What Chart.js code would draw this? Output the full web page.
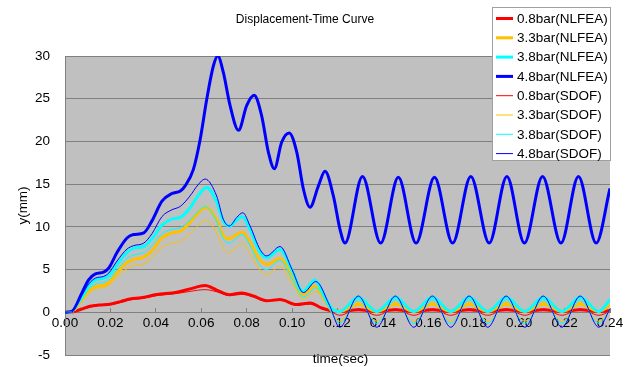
<!DOCTYPE html>
<html>
<head>
<meta charset="utf-8">
<script src="https://cdn.jsdelivr.net/npm/chart.js@4.4.0/dist/chart.umd.min.js"></script>
<style>
  html, body { margin: 0; padding: 0; background: #ffffff; }
  #c { display: block; }
</style>
</head>
<body>
<canvas id="c" width="629" height="367"></canvas>
<script>
// Displacement histories, [time (s), displacement (mm)]
const nlfea08 = [[0,0],[0.003,0.03],[0.007,0.35],[0.011,0.7],[0.015,0.85],[0.0198,0.95],[0.0245,1.25],[0.0286,1.55],[0.0335,1.7],[0.0404,2.07],[0.0492,2.35],[0.0551,2.74],[0.0617,3.13],[0.0668,2.6],[0.0724,2.05],[0.0778,2.27],[0.083,1.9],[0.0888,1.35],[0.0947,1.5],[0.102,0.9],[0.108,1.1],[0.113,0.5],[0.117,0.2],[0.121,0.1],[0.1292,0.3],[0.1373,0.1],[0.1455,0.3],[0.1536,0.1],[0.1618,0.3],[0.1699,0.1],[0.178,0.3],[0.1862,0.1],[0.1943,0.3],[0.2025,0.1],[0.2106,0.3],[0.2188,0.1],[0.2269,0.3],[0.2351,0.1],[0.24,0.2]];
const nlfea33 = [[0,0],[0.003,0.05],[0.0075,1.5],[0.0104,2.5],[0.0134,3.0],[0.017,3.15],[0.0193,3.45],[0.0229,4.6],[0.0273,5.8],[0.0302,6.2],[0.0347,6.45],[0.0383,7.2],[0.0427,8.7],[0.0471,9.3],[0.0508,9.5],[0.055,10.5],[0.0585,11.6],[0.062,12.3],[0.0668,10.8],[0.0697,9.0],[0.0724,8.6],[0.0756,9.1],[0.078,9.4],[0.0815,8.2],[0.0859,6.1],[0.0888,5.6],[0.0947,6.3],[0.1,4.2],[0.1047,2.07],[0.11,3.05],[0.114,1.6],[0.118,0.25],[0.121,0.1],[0.1292,0.95],[0.1373,0.1],[0.1455,0.95],[0.1536,0.1],[0.1618,0.95],[0.1699,0.1],[0.178,0.95],[0.1862,0.1],[0.1943,0.95],[0.2025,0.1],[0.2106,0.95],[0.2188,0.1],[0.2269,0.95],[0.2351,0.1],[0.24,0.8]];
const nlfea38 = [[0,0],[0.003,0.05],[0.0075,1.8],[0.0104,3.1],[0.0134,3.8],[0.017,4.0],[0.0193,4.3],[0.0229,5.6],[0.0273,7.0],[0.0302,7.5],[0.0347,7.7],[0.0383,8.6],[0.0427,10.2],[0.0471,10.9],[0.0508,11.1],[0.055,12.2],[0.0585,13.6],[0.0624,14.6],[0.0668,12.9],[0.0697,10.7],[0.0724,10.1],[0.0756,10.8],[0.078,11.2],[0.0815,9.7],[0.0859,7.0],[0.0888,6.4],[0.0947,7.35],[0.1,4.9],[0.1047,2.45],[0.11,3.75],[0.114,2.0],[0.118,0.3],[0.121,0.1],[0.1292,1.75],[0.1373,0.1],[0.1455,1.75],[0.1536,0.1],[0.1618,1.75],[0.1699,0.1],[0.178,1.75],[0.1862,0.1],[0.1943,1.75],[0.2025,0.1],[0.2106,1.75],[0.2188,0.1],[0.2269,1.75],[0.2351,0.1],[0.24,1.5]];
const nlfea48 = [[0,0],[0.003,0.1],[0.0075,2.3],[0.0104,3.8],[0.0134,4.5],[0.017,4.7],[0.0193,5.2],[0.0229,7.0],[0.0273,8.7],[0.0302,9.1],[0.0347,9.3],[0.0383,10.7],[0.0427,13.0],[0.0471,13.9],[0.0508,14.2],[0.0529,14.8],[0.0565,16.7],[0.0595,20.2],[0.0624,24.9],[0.0653,28.8],[0.0673,30.0],[0.0697,28.1],[0.0727,24.2],[0.0764,21.3],[0.08,24.2],[0.0833,25.4],[0.0866,23.0],[0.0896,18.7],[0.0922,16.8],[0.0954,19.9],[0.0987,21.0],[0.1021,18.7],[0.105,14.4],[0.1079,12.3],[0.1116,14.8],[0.1145,16.5],[0.1182,13.6],[0.1211,9.7],[0.1233,8.1],[0.131,15.9],[0.139,8.1],[0.1468,15.8],[0.1546,8.1],[0.1627,15.8],[0.1707,8.1],[0.1787,15.9],[0.1868,8.1],[0.1946,15.9],[0.2023,8.1],[0.2103,15.9],[0.2184,8.1],[0.2261,15.9],[0.2339,8.1],[0.24,14.5]];
const sdof08 = [[0,0],[0.003,0.03],[0.007,0.3],[0.011,0.6],[0.015,0.8],[0.0198,0.9],[0.0245,1.15],[0.0286,1.45],[0.0335,1.6],[0.0404,1.95],[0.0492,2.2],[0.0551,2.45],[0.0617,2.65],[0.0668,2.4],[0.0724,1.95],[0.0778,2.1],[0.083,1.8],[0.0888,1.3],[0.0947,1.4],[0.102,0.85],[0.108,0.95],[0.113,0.45],[0.117,0.1],[0.121,-0.35],[0.1292,0.4],[0.1373,-0.35],[0.1455,0.4],[0.1536,-0.35],[0.1618,0.4],[0.1699,-0.35],[0.178,0.4],[0.1862,-0.35],[0.1943,0.4],[0.2025,-0.35],[0.2106,0.4],[0.2188,-0.35],[0.2269,0.4],[0.2351,-0.35],[0.24,0.1]];
const sdof33 = [[0,0],[0.003,0.05],[0.0075,1.3],[0.0104,2.2],[0.0134,2.75],[0.017,2.9],[0.0193,3.15],[0.0229,4.1],[0.0273,5.1],[0.0302,5.45],[0.0347,5.65],[0.0383,6.4],[0.0427,7.6],[0.0471,8.1],[0.0508,8.3],[0.055,9.2],[0.0585,10.1],[0.0617,10.8],[0.0668,9.3],[0.0697,7.5],[0.0724,7.0],[0.0756,7.6],[0.078,8.05],[0.0815,6.9],[0.0859,4.9],[0.0888,4.4],[0.0947,5.4],[0.1,3.4],[0.105,1.55],[0.1105,2.45],[0.1165,0.3],[0.121,-1.05],[0.1292,1.2],[0.1373,-1.05],[0.1455,1.2],[0.1536,-1.05],[0.1618,1.2],[0.1699,-1.05],[0.178,1.2],[0.1862,-1.05],[0.1943,1.2],[0.2025,-1.05],[0.2106,1.2],[0.2188,-1.05],[0.2269,1.2],[0.2351,-1.05],[0.24,0.25]];
const sdof38 = [[0,0],[0.003,0.05],[0.0075,1.6],[0.0104,2.7],[0.0134,3.3],[0.017,3.5],[0.0193,3.8],[0.0229,5.0],[0.0273,6.3],[0.0302,6.7],[0.0347,7.0],[0.0383,7.8],[0.0427,9.2],[0.0471,9.7],[0.0508,9.9],[0.055,10.8],[0.0585,11.8],[0.0617,12.4],[0.0668,10.6],[0.0697,8.6],[0.0724,8.1],[0.0756,8.7],[0.078,9.1],[0.0815,7.8],[0.0859,5.5],[0.0888,5.0],[0.0947,6.1],[0.1,3.9],[0.105,1.8],[0.1105,2.85],[0.1165,0.4],[0.121,-1.3],[0.1292,1.45],[0.1373,-1.3],[0.1455,1.45],[0.1536,-1.3],[0.1618,1.45],[0.1699,-1.3],[0.178,1.45],[0.1862,-1.3],[0.1943,1.45],[0.2025,-1.3],[0.2106,1.45],[0.2188,-1.3],[0.2269,1.45],[0.2351,-1.3],[0.24,0.3]];
const sdof48 = [[0,0],[0.003,0.05],[0.0075,2.0],[0.0104,3.3],[0.0134,4.0],[0.017,4.2],[0.0193,4.6],[0.0229,6.0],[0.0273,7.4],[0.0302,7.8],[0.0347,8.1],[0.0383,9.2],[0.0427,11.2],[0.0471,12.0],[0.0508,12.4],[0.055,13.6],[0.0585,14.9],[0.0617,15.6],[0.0668,13.6],[0.0697,10.9],[0.0724,10.1],[0.0756,11.1],[0.0783,11.65],[0.0815,10.1],[0.0859,7.35],[0.0888,6.6],[0.0947,7.7],[0.1,5.0],[0.105,2.3],[0.1105,3.6],[0.1165,0.8],[0.121,-1.75],[0.1292,1.9],[0.1373,-1.75],[0.1455,1.9],[0.1536,-1.75],[0.1618,1.9],[0.1699,-1.75],[0.178,1.9],[0.1862,-1.75],[0.1943,1.9],[0.2025,-1.75],[0.2106,1.9],[0.2188,-1.75],[0.2269,1.9],[0.2351,-1.75],[0.24,0.4]];

const seriesLabels = ['0.8bar(NLFEA)','3.3bar(NLFEA)','3.8bar(NLFEA)','4.8bar(NLFEA)','0.8bar(SDOF)','3.3bar(SDOF)','3.8bar(SDOF)','4.8bar(SDOF)'];
const seriesData = [nlfea08, nlfea33, nlfea38, nlfea48, sdof08, sdof33, sdof38, sdof48];
const seriesColors = ['#FF0000','#FFC000','#00FFFF','#0000FF','#FF0000','#FFC000','#00FFFF','#0000FF'];
const seriesWidths = [3, 3, 3, 3, 1, 1, 1, 1];

const timeTicks = [0, 0.02, 0.04, 0.06, 0.08, 0.10, 0.12, 0.14, 0.16, 0.18, 0.20, 0.22, 0.24];
const dispTicks = [-5, 0, 5, 10, 15, 20, 25, 30];

const FAMILY = '"Liberation Sans", Arial, Helvetica, sans-serif';

const datasets = seriesData.map((pts, i) => ({
  label: seriesLabels[i],
  data: pts.map(p => ({ x: p[0], y: p[1] })),
  borderColor: seriesColors[i],
  backgroundColor: seriesColors[i],
  borderWidth: seriesWidths[i],
  pointRadius: 0,
  fill: false,
  cubicInterpolationMode: 'monotone',
  order: seriesData.length - 1 - i
}));

// grey plot area behind the grid
const plotBackground = {
  id: 'plotBackground',
  beforeDraw(chart) {
    const { ctx, chartArea: a } = chart;
    ctx.save();
    ctx.fillStyle = '#C0C0C0';
    ctx.fillRect(a.left, a.top, a.right - a.left, a.bottom - a.top);
    ctx.restore();
  }
};

// title, axis titles and the boxed legend
const annotations = {
  id: 'annotations',
  afterDraw(chart) {
    const { ctx, chartArea: a } = chart;
    ctx.save();
    ctx.fillStyle = '#000';
    ctx.textAlign = 'center';
    ctx.textBaseline = 'middle';
    ctx.font = '12px ' + FAMILY;
    ctx.fillText('Displacement-Time Curve', 305, 20);

    ctx.font = '13.5px ' + FAMILY;
    ctx.fillText('time(sec)', (a.left + a.right) / 2 + 3, 359);

    ctx.save();
    ctx.translate(23, (a.top + a.bottom) / 2);
    ctx.rotate(-Math.PI / 2);
    ctx.fillText('y(mm)', 0, 0);
    ctx.restore();

    // legend
    const bx = 492.5, by = 7.5, bw = 118, bh = 153;
    ctx.fillStyle = '#FFFFFF';
    ctx.fillRect(bx, by, bw, bh);
    ctx.strokeStyle = '#A0A0A0';
    ctx.lineWidth = 1;
    ctx.strokeRect(bx, by, bw, bh);
    ctx.textAlign = 'left';
    ctx.font = '13.5px ' + FAMILY;
    chart.data.datasets.forEach((ds, i) => {
      const y = 18.5 + i * 19.3;
      ctx.beginPath();
      ctx.strokeStyle = ds.borderColor;
      ctx.lineWidth = ds.borderWidth;
      ctx.moveTo(496, y);
      ctx.lineTo(513, y);
      ctx.stroke();
      ctx.fillStyle = '#000';
      ctx.fillText(ds.label, 517, y + 0.5);
    });
    ctx.restore();
  }
};

new Chart(document.getElementById('c'), {
  type: 'line',
  data: { datasets },
  plugins: [plotBackground, annotations],
  options: {
    responsive: false,
    animation: false,
    devicePixelRatio: 1,
    layout: { padding: { left: 0, top: 56, right: 19, bottom: 12 } },
    plugins: { legend: { display: false }, title: { display: false }, tooltip: { enabled: false } },
    scales: {
      x: {
        type: 'linear',
        min: 0,
        max: 0.24,
        position: { y: 0 },
        z: 1,
        grid: { drawOnChartArea: false, drawTicks: true, tickLength: -5, color: '#808080' },
        border: { display: true, color: '#808080', width: 1 },
        ticks: {
          color: '#000',
          font: { family: FAMILY, size: 13.5 },
          padding: 8,
          maxRotation: 0,
          autoSkip: false,
          callback: v => Number(v).toFixed(2)
        },
        afterBuildTicks: s => { s.ticks = timeTicks.map(v => ({ value: v })); },
        afterFit: s => { s.paddingLeft = 0; s.paddingRight = 0; }
      },
      y: {
        type: 'linear',
        min: -5,
        max: 30,
        position: 'left',
        grid: { color: '#808080', drawTicks: false },
        border: { display: true, color: '#808080', width: 1 },
        ticks: {
          color: '#000',
          font: { family: FAMILY, size: 13.5 },
          padding: 15
        },
        afterBuildTicks: s => { s.ticks = dispTicks.map(v => ({ value: v })); },
        afterFit: s => { s.width = 65; s.paddingTop = 0; s.paddingBottom = 0; }
      }
    }
  }
});
</script>
</body>
</html>
